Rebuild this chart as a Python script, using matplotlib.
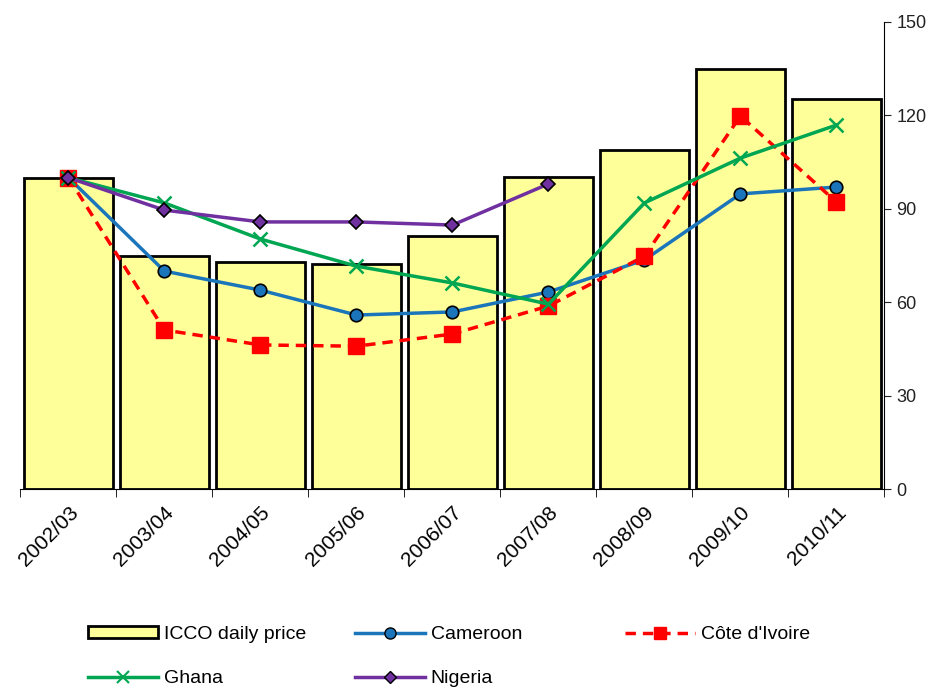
import numpy as np
import matplotlib
matplotlib.use('Agg')
import matplotlib.pyplot as plt
from matplotlib.patches import Patch
from matplotlib.lines import Line2D

plt.rcParams['font.family'] = ['Liberation Sans', 'DejaVu Sans']

# Veriler (2002/03 = 100)
seasons = ['2002/03', '2003/04', '2004/05', '2005/06', '2006/07',
           '2007/08', '2008/09', '2009/10', '2010/11']
icco = [100, 74.8, 72.9, 72.3, 81.3, 100.2, 108.9, 134.9, 125.3]
cameroon = [100, 70.0, 63.9, 55.9, 56.9, 63.3, 73.6, 94.8, 97.0]
cote = [100, 51.1, 46.3, 45.9, 49.8, 58.8, 74.8, 119.8, 92.2]
ghana = [100, 91.9, 80.3, 71.6, 66.2, 59.4, 91.9, 106.3, 116.9]
nigeria = [100, 89.6, 85.8, 85.8, 84.8, 98.0]

fig = plt.figure(figsize=(9.3, 6.87), dpi=100)
ax = fig.add_axes([0.022, 0.288, 0.929, 0.68])

x = np.arange(len(seasons))
ax.bar(x, icco, width=0.92, color='#FFFF99', edgecolor='black', linewidth=2, zorder=1)

ax.plot(x, cameroon, color='#1B75BB', lw=2.5, marker='o', ms=9,
        markerfacecolor='#1B75BB', markeredgecolor='black', markeredgewidth=1.2, zorder=3)
ax.plot(x, cote, color='#FF0000', lw=2.5, ls=(0, (3, 2)), marker='s', ms=11,
        markerfacecolor='#FF0000', markeredgecolor='#FF0000', zorder=3)
ax.plot(x, ghana, color='#00A651', lw=2.5, marker='x', ms=10,
        markeredgewidth=1.8, zorder=4)
ax.plot(x[:len(nigeria)], nigeria, color='#7030A0', lw=2.5, marker='D', ms=7,
        markerfacecolor='#7030A0', markeredgecolor='black', markeredgewidth=1.2, zorder=5)

ax.set_xlim(-0.5, len(seasons) - 0.5)
ax.set_ylim(0, 150)
ax.yaxis.tick_right()
ax.set_yticks(np.arange(0, 151, 30))
ax.tick_params(axis='y', labelsize=13, length=5, direction='out', colors='#222222')

ax.set_xticks(x)
ax.set_xticklabels(seasons, rotation=45, ha='right', rotation_mode='anchor', fontsize=15)
ax.tick_params(axis='x', length=0, pad=10)
ax.set_xticks(np.arange(-0.5, len(seasons), 1), minor=True)
ax.tick_params(axis='x', which='minor', length=6, direction='out')

ax.spines['left'].set_visible(False)
ax.spines['top'].set_visible(False)

h_icco = Patch(facecolor='#FFFF99', edgecolor='black', linewidth=2, label='ICCO daily price')
h_ghana = Line2D([], [], color='#00A651', lw=2.5, marker='x', ms=8, markeredgewidth=1.5, label='Ghana')
h_cam = Line2D([], [], color='#1B75BB', lw=2.5, marker='o', ms=8, markeredgecolor='black', label='Cameroon')
h_nig = Line2D([], [], color='#7030A0', lw=2.5, marker='D', ms=6, markeredgecolor='black', label='Nigeria')
h_cote = Line2D([], [], color='#FF0000', lw=2.5, ls=(0, (3, 2)), marker='s', ms=9, label="Côte d'Ivoire")

leg_kw = dict(loc='upper left', frameon=False, fontsize=14, handlelength=3.6,
              handleheight=0.6, labelspacing=1.4, handletextpad=0.3,
              borderpad=0, borderaxespad=0)
for cols, xpos in [([h_icco, h_ghana], 88), ([h_cam, h_nig], 355), ([h_cote], 625)]:
    fig.legend(handles=cols, bbox_to_anchor=(xpos / 930, 1 - 626 / 687), **leg_kw)

fig.savefig('out.png', dpi=100)
